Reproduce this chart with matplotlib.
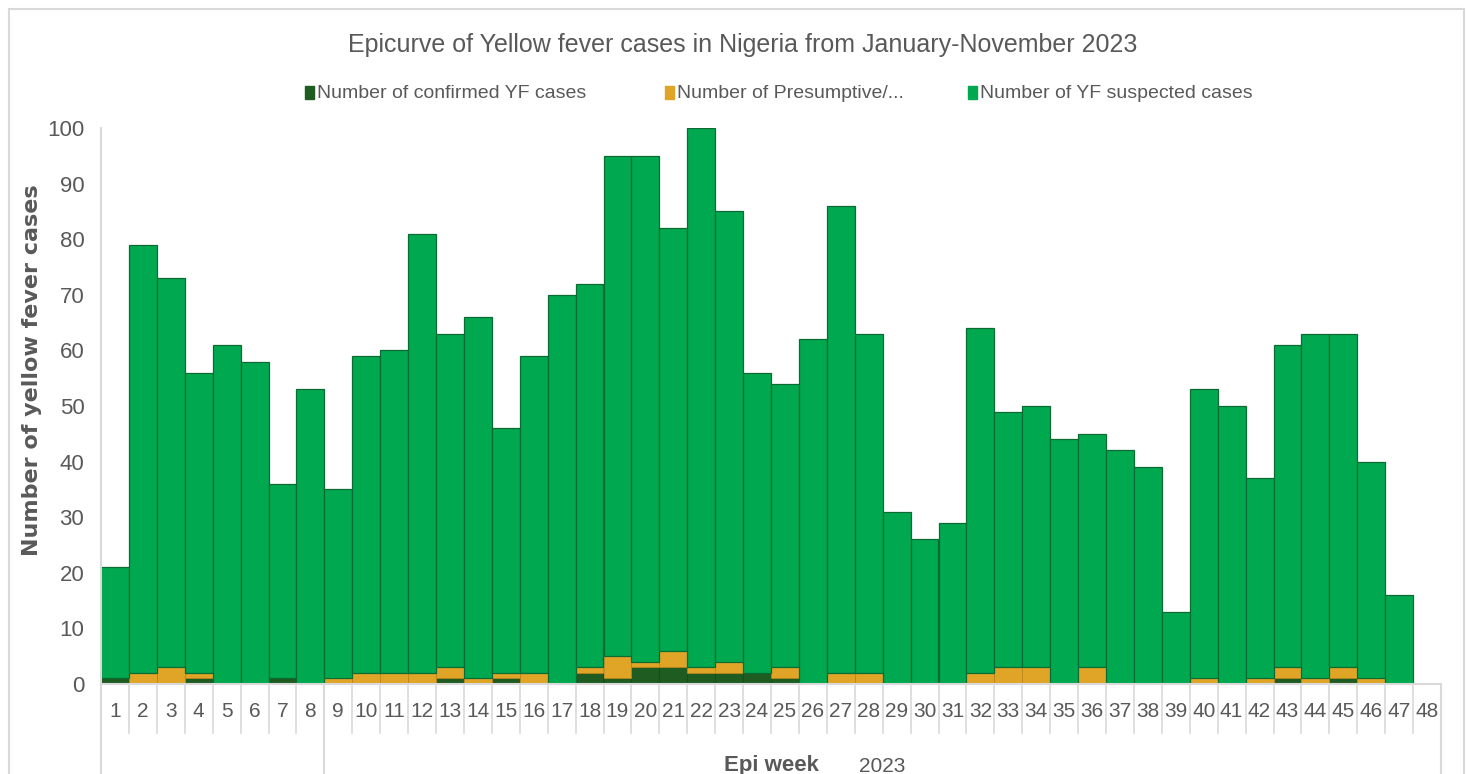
import numpy as np
import matplotlib
matplotlib.use("Agg")
from matplotlib import pyplot as plt
from matplotlib.patches import Rectangle
from matplotlib.lines import Line2D

weeks = [str(w) for w in range(1, 49)]
confirmed = [1, 0, 0, 1, 0, 0, 1, 0, 0, 0, 0, 0, 1, 0, 1, 0,
             0, 2, 1, 3, 3, 2, 2, 2, 1, 0, 0, 0, 0, 0, 0, 0,
             0, 0, 0, 0, 0, 0, 0, 0, 0, 0, 1, 0, 1, 0, 0, 0]
presumptive = [0, 2, 3, 1, 0, 0, 0, 0, 1, 2, 2, 2, 2, 1, 1, 2,
               0, 1, 4, 1, 3, 1, 2, 0, 2, 0, 2, 2, 0, 0, 0, 2,
               3, 3, 0, 3, 0, 0, 0, 1, 0, 1, 2, 1, 2, 1, 0, 0]
suspected = [20, 77, 70, 54, 61, 58, 35, 53, 34, 57, 58, 79, 60, 65, 44, 57,
             70, 69, 90, 91, 76, 97, 81, 54, 51, 62, 84, 61, 31, 26, 29, 62,
             46, 47, 44, 42, 42, 39, 13, 52, 50, 36, 58, 62, 60, 39, 16, 0]
legend_labels = ["Number of confirmed YF cases", "Number of Presumptive/...",
                 "Number of YF suspected cases"]

c_conf = "#1e5c22"
c_pres = "#e0a526"
c_susp = "#00a850"
grey_txt = "#595959"
grey_line = "#d9d9d9"

plt.rcParams['font.family'] = ['Liberation Sans', 'DejaVu Sans']

W, H = 1466, 774
fig = plt.figure(figsize=(W / 100, H / 100), dpi=100)
fig.patches.append(Rectangle((9 / W, -0.01), 1455 / W, 1 - 9 / H + 0.01,
                             transform=fig.transFigure, fill=False,
                             edgecolor=grey_line, linewidth=1.5))

ax = fig.add_axes([101 / W, 1 - 684 / H, 1340 / W, 556 / H])
x = np.arange(1, len(weeks) + 1)
conf = np.array(confirmed)
pres = np.array(presumptive)
susp = np.array(suspected)

ax.bar(x, conf, width=1.0, color=c_conf, edgecolor="#174d1a", linewidth=0.8)
ax.bar(x, pres, width=1.0, bottom=conf, color=c_pres, edgecolor="#b9861c", linewidth=0.6)
ax.bar(x, susp, width=1.0, bottom=conf + pres, color=c_susp, edgecolor="#0b6b33", linewidth=0.9)

ax.set_xlim(0.5, len(weeks) + 0.5)
ax.set_ylim(0, 100)
ax.set_yticks(range(0, 101, 10))
ax.tick_params(axis='y', length=0, pad=12, labelsize=16, labelcolor=grey_txt)
ax.set_xticks(x)
ax.set_xticklabels(weeks)
ax.tick_params(axis='x', length=0, pad=13, labelsize=15, labelcolor=grey_txt)
for s in ['top', 'right']:
    ax.spines[s].set_visible(False)
for s in ['left', 'bottom']:
    ax.spines[s].set_color(grey_line)
    ax.spines[s].set_linewidth(1.5)

# multi-level category axis
trans = ax.get_xaxis_transform()
for b in np.arange(1.5, len(weeks) + 0.5, 1.0):
    ax.add_line(Line2D([b, b], [0, -49 / 556], transform=trans, color=grey_line,
                       linewidth=1.2, clip_on=False))
for b in [0.5, 8.5, len(weeks) + 0.5]:
    ax.add_line(Line2D([b, b], [0, -95 / 556], transform=trans, color=grey_line,
                       linewidth=1.5, clip_on=False))
ax.text(28.5, -82 / 556, "2023", transform=trans, ha='center', va='center',
        fontsize=15, color=grey_txt)
ax.text(24.5, -82 / 556, "Epi week", transform=trans, ha='center', va='center',
        fontsize=16, fontweight='bold', color=grey_txt)

ax.set_ylabel("Number of yellow fever cases", fontsize=16, fontweight='bold',
              color=grey_txt, family=['DejaVu Sans'])
ax.yaxis.set_label_coords(-59 / 1340, (684 - 370) / 556)

fig.text(743 / W, 1 - 45 / H, "Epicurve of Yellow fever cases in Nigeria from January-November 2023",
         ha='center', va='center', fontsize=18, color=grey_txt)

# legend entries, placed like the reference
leg_colors = [c_conf, c_pres, c_susp]
leg_x = [305, 665, 968]
for lx, col, lab in zip(leg_x, leg_colors, legend_labels):
    fig.patches.append(Rectangle((lx / W, 1 - 99 / H), 9 / W, 13 / H,
                                 transform=fig.transFigure, facecolor=col, edgecolor=col))
    fig.text((lx + 12) / W, 1 - 93 / H, lab, ha='left', va='center', fontsize=14, color=grey_txt)

fig.savefig("out.png", dpi=100)
